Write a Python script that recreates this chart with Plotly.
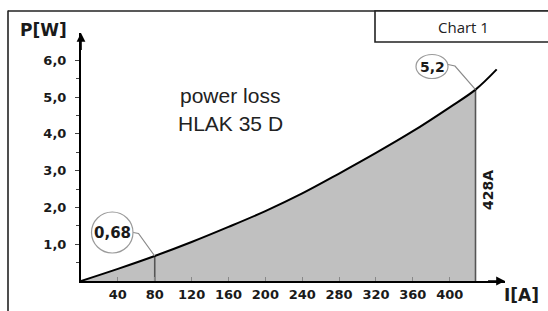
import plotly.graph_objects as go

# ---- data ----
current_a = [0, 40, 80, 120, 160, 200, 240, 280, 320, 360, 400, 428, 451]
power_w = [0, 0.33, 0.68, 1.06, 1.47, 1.90, 2.38, 2.92, 3.48, 4.07, 4.72, 5.20, 5.75]
fill_limit_a = 428
marked_points_a = [80, 428]
marked_points_w = [0.68, 5.2]
marked_labels = ["0,68", "5,2"]
x_tick_vals = [40, 80, 120, 160, 200, 240, 280, 320, 360, 400]
x_tick_text = [str(v) for v in x_tick_vals]
y_tick_vals = [1, 2, 3, 4, 5, 6]
y_tick_text = ["1,0", "2,0", "3,0", "4,0", "5,0", "6,0"]

W, H = 548, 311
L, R, T, B = 81, 505, 33, 281
X_MAX = 460
Y_MAX = (B - T) / 36.8


def px(xp):  # pixel x -> paper
    return (xp - L) / (R - L)


def py(yp):  # pixel y -> paper
    return (B - yp) / (B - T)


def dx(xp):  # pixel x -> data
    return (xp - L) / (R - L) * X_MAX


def dy(yp):  # pixel y -> data
    return (B - yp) / (B - T) * Y_MAX


fill_x = [x for x in current_a if x <= fill_limit_a]
fill_y = [p for x, p in zip(current_a, power_w) if x <= fill_limit_a]

fig = go.Figure()
fig.add_trace(go.Scatter(x=fill_x, y=fill_y, mode="lines", fill="tozeroy",
                         fillcolor="#c0c0c0", line=dict(width=0, shape="spline"),
                         hoverinfo="skip", showlegend=False))
# vertical marker lines
for xa, ya in zip(marked_points_a, marked_points_w):
    fig.add_trace(go.Scatter(x=[xa, xa], y=[0, ya], mode="lines",
                             line=dict(color="#555555", width=1.6),
                             hoverinfo="skip", showlegend=False))
fig.add_trace(go.Scatter(x=current_a, y=power_w, mode="lines",
                         line=dict(color="black", width=2, shape="spline"),
                         showlegend=False))

bold = dict(family="DejaVu Sans", weight="bold", color="#1a1a1a")

shapes = []
# outer frame (left + top)
shapes.append(dict(type="line", xref="paper", yref="paper", x0=px(8), x1=px(8), y0=py(10.5), y1=py(315),
                   line=dict(color="#222", width=1.6)))
shapes.append(dict(type="line", xref="paper", yref="paper", x0=px(8), x1=px(552), y0=py(11), y1=py(11),
                   line=dict(color="#222", width=1.6)))
# Chart 1 box
shapes.append(dict(type="rect", xref="paper", yref="paper", x0=px(375), x1=px(552), y0=py(11), y1=py(42),
                   line=dict(color="#222", width=1.6), fillcolor="white"))

# circles + leader lines
circle_boxes = [(91.5, 133, 212, 253), (416, 448, 54.5, 78.5)]
leaders = [[(133.3, 232.5), (138.5, 233.5)], [(448, 64.5), (455, 66)]]
for (x0, x1, y0, y1), pts, xa, ya in zip(circle_boxes, leaders, marked_points_a, marked_points_w):
    shapes.append(dict(type="circle", xref="paper", yref="paper", x0=px(x0), x1=px(x1), y0=py(y0), y1=py(y1),
                       line=dict(color="#9a9a9a", width=1.2), fillcolor="rgba(255,255,255,0)"))
    path = "M {} {} L {} {} L {} {}".format(dx(pts[0][0]), dy(pts[0][1]), dx(pts[1][0]), dy(pts[1][1]), xa, ya)
    shapes.append(dict(type="path", xref="x", yref="y", path=path,
                       line=dict(color="#8a8a8a", width=1.2)))

annotations = []
# axis arrowheads
annotations.append(dict(x=X_MAX, y=0, ax=X_MAX - 20, ay=0, xref="x", yref="y", axref="x", ayref="y",
                        text="", showarrow=True, arrowhead=2, arrowsize=1.1, arrowwidth=1.6, arrowcolor="black"))
annotations.append(dict(x=0, y=Y_MAX, ax=0, ay=Y_MAX - 0.5, xref="x", yref="y", axref="x", ayref="y",
                        text="", showarrow=True, arrowhead=2, arrowsize=1.1, arrowwidth=1.6, arrowcolor="black"))
# axis titles
annotations.append(dict(x=px(43), y=py(30), xref="paper", yref="paper", text="P[W]", showarrow=False,
                        font=dict(size=17, **bold), xanchor="center", yanchor="middle"))
annotations.append(dict(x=px(521), y=py(295), xref="paper", yref="paper", text="I[A]", showarrow=False,
                        font=dict(size=17, **bold), xanchor="center", yanchor="middle"))
# chart box label
annotations.append(dict(x=px(463), y=py(27), xref="paper", yref="paper", text="Chart 1", showarrow=False,
                        font=dict(size=15, family="Open Sans", color="#222"), xanchor="center", yanchor="middle"))
# central title
annotations.append(dict(x=px(230), y=py(95), xref="paper", yref="paper", text="power loss", showarrow=False,
                        font=dict(size=21, family="Liberation Sans", color="#222"), xanchor="center", yanchor="middle"))
annotations.append(dict(x=px(230), y=py(123), xref="paper", yref="paper", text="HLAK 35 D", showarrow=False,
                        font=dict(size=21, family="Liberation Sans", color="#222"), xanchor="center", yanchor="middle"))
# circle labels
for (x0, x1, y0, y1), lab, fs in zip(circle_boxes, marked_labels, [15, 14]):
    annotations.append(dict(x=px((x0 + x1) / 2), y=py((y0 + y1) / 2), xref="paper", yref="paper", text=lab,
                            showarrow=False, font=dict(size=fs, **bold), xanchor="center", yanchor="middle"))
# 428A rotated
annotations.append(dict(x=px(488), y=py(190), xref="paper", yref="paper", text=f"{fill_limit_a}A",
                        showarrow=False, textangle=-90, font=dict(size=14, **bold),
                        xanchor="center", yanchor="middle"))

fig.update_layout(
    width=W, height=H,
    margin=dict(l=L, r=W - R, t=T, b=H - B, pad=0),
    paper_bgcolor="white", plot_bgcolor="white",
    shapes=shapes, annotations=annotations,
    xaxis=dict(range=[0, X_MAX], showgrid=False, zeroline=False, showline=True, linecolor="black",
               linewidth=2, ticks="inside", ticklen=4, tickcolor="#888", tickwidth=1,
               tickvals=x_tick_vals, ticktext=x_tick_text, tickfont=dict(size=13, **bold),
               automargin=False, fixedrange=True),
    yaxis=dict(range=[0, Y_MAX], showgrid=False, zeroline=False, showline=True, linecolor="black",
               linewidth=2, ticks="outside", ticklen=4, tickcolor="#444", tickwidth=1,
               tickvals=y_tick_vals, ticktext=y_tick_text, tickfont=dict(size=13, **bold),
               ticklabelstandoff=6,
               minor=dict(tickvals=[0.5, 1.5, 2.5, 3.5, 4.5, 5.5], ticks="outside", ticklen=3,
                          tickcolor="#444"),
               automargin=False, fixedrange=True),
)

fig.write_html("out.html", config={"displayModeBar": False},
               post_script="document.body.style.margin='0';document.body.style.overflow='hidden';")
